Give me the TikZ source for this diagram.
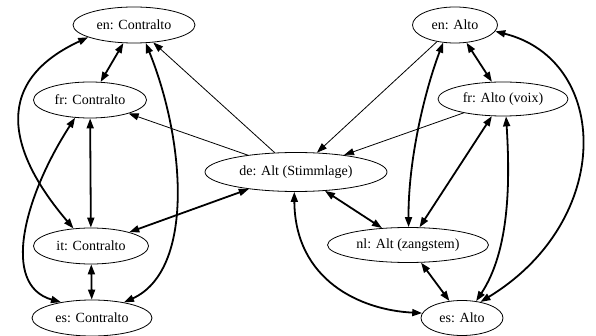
\documentclass[tikz,border=0pt]{standalone}
\usepackage{fontspec}
\setmainfont{Liberation Serif}
\usetikzlibrary{arrows.meta,shapes.geometric}
\begin{document}
\begin{tikzpicture}[x=1pt,y=-1pt,
  lang/.style={ellipse,draw,line width=0.8pt,inner sep=0pt,minimum height=36pt,font=\fontsize{14}{16}\selectfont},
  thin/.style={line width=0.8pt,-{Triangle[length=10pt,width=7pt]}},
  both/.style={line width=1.8pt,{Triangle[length=10pt,width=7pt]}-{Triangle[length=10pt,width=7pt]}}]
\useasboundingbox (0,0) rectangle (596,336);
\node[lang,minimum width=122pt] (enC) at (134,25) {en: Contralto};
\node[lang,minimum width=113pt] (frC) at (90,100) {fr: Contralto};
\node[lang,minimum width=115pt] (itC) at (91,246) {it: Contralto};
\node[lang,minimum width=120pt] (esC) at (92,318) {es: Contralto};
\node[lang,minimum width=182pt,minimum height=39pt] (de) at (296,172) {de: Alt (Stimmlage)};
\node[lang,minimum width=85pt] (enA) at (455,25) {en: Alto};
\node[lang,minimum width=130pt,minimum height=34pt] (frA) at (503,99) {fr: Alto (voix)};
\node[lang,minimum width=161pt,minimum height=35pt] (nl) at (408,245) {nl: Alt (zangstem)};
\node[lang,minimum width=82pt,minimum height=35pt] (esA) at (462,318) {es: Alto};
% thin one-way edges
\draw[thin] (de) -- (enC);
\draw[thin] (de) -- (frC);
\draw[thin] (enA) -- (de);
\draw[thin] (frA) -- (de);
% straight two-way edges
\draw[both] (enC) -- (frC);
\draw[both] (frC) -- (itC);
\draw[both] (itC) -- (esC);
\draw[both] (de) -- (itC);
\draw[both] (de) -- (nl);
\draw[both] (enA) -- (frA);
\draw[both] (frA) -- (nl);
\draw[both] (nl) -- (esA);
% curved two-way edges
\draw[both] (enC.195) .. controls (-15,85) and (15,160) .. (itC.135);
\draw[both] (frC.230) .. controls (25,195) and (0,285) .. (esC.153);
\draw[both] (enC.303) .. controls (185,140) and (195,270) .. (esC.26);
\draw[both] (de.265) .. controls (295,280) and (360,310) .. (esA.173);
\draw[both] (enA.236) .. controls (425,90) and (408,160) .. (nl.88);
\draw[both] (enA.351) .. controls (610,60) and (615,220) .. (esA.41);
\draw[both] (frA.280) .. controls (510,180) and (510,250) .. (esA.50);
\end{tikzpicture}
\end{document}
